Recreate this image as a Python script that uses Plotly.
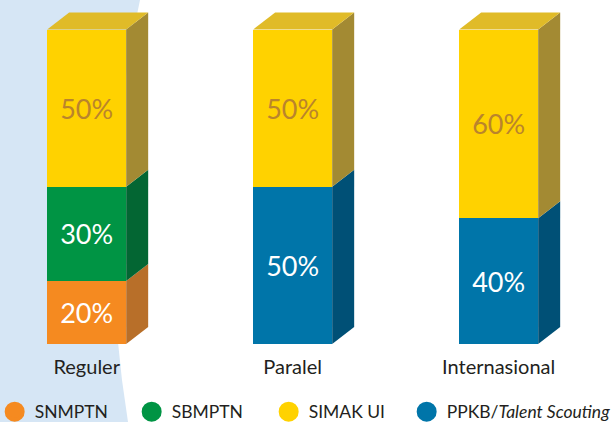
import plotly.graph_objects as go

# ---- data ----
categories = ["Reguler", "Paralel", "Internasional"]
snmptn = [20, None, None]
sbmptn = [30, None, None]
ppkb = [None, 50, 40]
simak_ui = [50, 50, 60]

series_names = ["SNMPTN", "SBMPTN", "PPKB/<i>Talent Scouting</i>", "SIMAK UI"]
series_values = [snmptn, sbmptn, ppkb, simak_ui]
legend_rank = [1, 2, 4, 3]
legend_ids = ["legend", "legend", "legend2", "legend"]

# ---- styles ----
front_colors = ["#F58A20", "#009444", "#0075A9", "#FFD200"]
side_colors = ["#B86F29", "#036633", "#005076", "#A38A33"]
top_color = "#E0BB28"
text_colors = ["#FFFFFF", "#FFFFFF", "#FFFFFF", "#BA842C"]
FONT = "Lato"
BAR_W = 0.3835
DX = 0.1068   # depth in category units
DY = 5.4      # depth in value units

fig = go.Figure()

for name, vals, fc, tc in zip(series_names, series_values, front_colors, text_colors):
    fig.add_trace(go.Bar(
        x=categories, y=vals, name=name, marker=dict(color=fc, line=dict(width=0)),
        texttemplate="%{y}%", textposition="inside", insidetextanchor="middle",
        textfont=dict(family=FONT, size=27, color=tc), showlegend=False,
        hoverinfo="x+y+name",
    ))

# legend entries with round markers
for name, fc, rk, lg in zip(series_names, front_colors, legend_rank, legend_ids):
    fig.add_trace(go.Scatter(
        x=[None], y=[None], mode="markers", name=name, legendrank=rk, legend=lg,
        marker=dict(color=fc, size=16, symbol="circle", line=dict(color=fc, width=4)),
    ))

shapes = []
# light blue background area
H_PLOT = 344.0
W = 613.0
def py(p):
    return (H_PLOT - p) / H_PLOT
shapes.append(dict(
    type="path", xref="paper", yref="paper", layer="below",
    path=f"M 0,{py(0)} L {140/W},{py(0)} Q {93.8/W},{py(211)} {128/W},{py(422)} L 0,{py(422)} Z",
    fillcolor="#D6E6F5", line=dict(width=0),
))
# 3D side and top faces, derived from the data
for i, cat in enumerate(categories):
    base = 0
    xl = i - BAR_W / 2
    xr = i + BAR_W / 2
    for vals, sc in zip(series_values, side_colors):
        v = vals[i]
        if v is None:
            continue
        shapes.append(dict(
            type="path", xref="x", yref="y", layer="above",
            path=f"M {xr},{base} L {xr+DX},{base+DY} L {xr+DX},{base+v+DY} L {xr},{base+v} Z",
            fillcolor=sc, line=dict(width=0),
        ))
        base += v
    shapes.append(dict(
        type="path", xref="x", yref="y", layer="above",
        path=f"M {xl},{base} L {xl+DX},{base+DY} L {xr+DX},{base+DY} L {xr},{base} Z",
        fillcolor=top_color, line=dict(width=0),
    ))

legend_common = dict(orientation="h", xanchor="left", y=-0.197, yanchor="middle",
                     bgcolor="rgba(0,0,0,0)", traceorder="normal",
                     font=dict(family=FONT, size=17.5, color="#231F20"))

fig.update_layout(
    width=613, height=422,
    margin=dict(l=0, r=0, t=0, b=78, autoexpand=False),
    barmode="stack", bargap=1 - BAR_W,
    paper_bgcolor="white", plot_bgcolor="rgba(0,0,0,0)",
    font=dict(family=FONT, color="#231F20"),
    shapes=shapes,
    xaxis=dict(range=[-0.4207, 2.555], showgrid=False, zeroline=False, showline=False,
               ticks="", tickfont=dict(family=FONT, size=20, color="#231F20"),
               ticklabelstandoff=9, fixedrange=True),
    yaxis=dict(range=[0, 109.38], visible=False, fixedrange=True),
    legend=dict(x=-0.0087, entrywidth=92, entrywidthmode="pixels", **legend_common),
    legend2=dict(x=0.6634, **legend_common),
    showlegend=True,
)

fig.write_html("out.html", config={"displayModeBar": False},
               post_script="document.body.style.margin='0';")
